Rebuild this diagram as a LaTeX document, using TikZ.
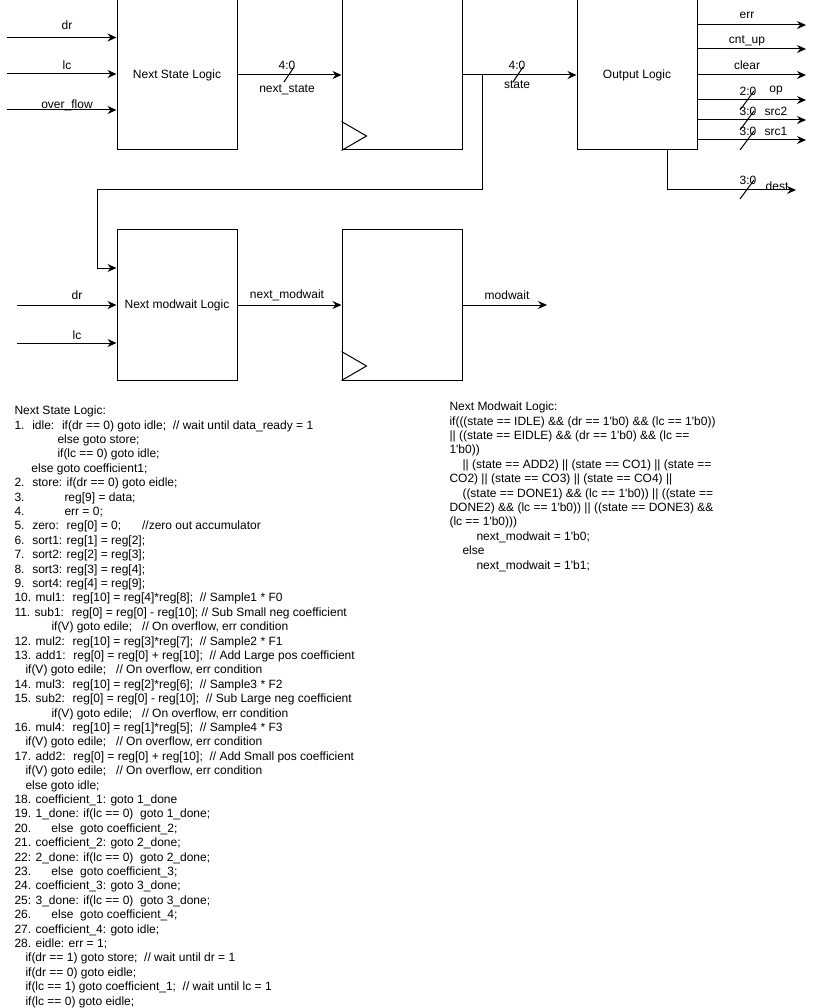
\documentclass[tikz,border=0pt]{standalone}
\usepackage{fontspec}
\setmainfont{Liberation Sans}
\usetikzlibrary{arrows.meta,calc}
\newcommand{\apos}{\textquotesingle}
\begin{document}
\begin{tikzpicture}[x=1pt,y=-1pt,line width=1pt,
  font=\fontsize{12}{14.4}\selectfont,
  blk/.style={draw, minimum width=120pt, minimum height=150pt, inner sep=0pt},
  arr/.style={-{Stealth[length=9pt,width=8pt,inset=3pt]}},
  lbl/.style={inner sep=0pt},
  code/.style={anchor=north west, align=left, inner sep=0pt}]
\useasboundingbox (0,0) rectangle (816,1008);

% blocks
\node[blk] (nsl) at (177,75) {Next State Logic};
\node[blk] (reg1) at (402,75) {};
\node[blk] (outl) at (637,75) {Output Logic};
\node[blk] (nml) at (177,305) {Next modwait Logic};
\node[blk] (reg2) at (402,305) {};

% clock triangles
\draw ($(reg1.south west)+(0,-29)$) -- ++(25,14.5) -- (reg1.south west);
\draw ($(reg2.south west)+(0,-29)$) -- ++(25,14.5) -- (reg2.south west);

% inputs to next state logic
\coordinate (idr) at (7,37.5);
\coordinate (ilc) at (7,74);
\coordinate (iof) at (7,110);
\draw[arr] (idr) -- (nsl.west |- idr);
\draw[arr] (ilc) -- (nsl.west |- ilc);
\draw[arr] (iof) -- (nsl.west |- iof);
\node[lbl] (ldr) at (67,25) {dr};
\node[lbl] (llc) at (67,65) {lc};
\node[lbl] (lof) at (67,105) {over\_flow};

% next_state
\draw[arr] (nsl.east) -- (reg1.west);
\draw (284,82) -- (294,67);
\node[lbl] (lns1) at (287,65.5) {4:0};
\node[lbl] (lns2) at (287,90) {next\_state};

% state
\draw[arr] (reg1.east) -- (outl.west);
\draw (513,82) -- (523,67);
\node[lbl] (lst1) at (517,65.5) {4:0};
\node[lbl] (lst2) at (517,85) {state};

% feedback of state to next modwait logic
\coordinate (tap) at (482,75);
\draw[arr] (tap) |- (97,190) |- (nml.west |- 0,268);

% outputs
\coordinate (oerr) at (806,25);
\coordinate (ocnt) at (806,49);
\coordinate (oclr) at (806,75);
\coordinate (oop) at (806,100);
\coordinate (os2) at (806,120);
\coordinate (os1) at (806,140);
\coordinate (odest) at (796,190);
\draw[arr] (outl.east |- oerr) -- (oerr);
\draw[arr] (outl.east |- ocnt) -- (ocnt);
\draw[arr] (outl.east |- oclr) -- (oclr);
\draw[arr] (outl.east |- oop) -- (oop);
\draw[arr] (outl.east |- os2) -- (os2);
\draw[arr] (outl.east |- os1) -- (os1);
\draw[arr] ($(outl.south)+(30,0)$) |- (odest);
\node[lbl] (lerr) at (747,15) {err};
\node[lbl] (lcnt) at (747,41) {cnt\_up};
\node[lbl] (lclr) at (747,65) {clear};
\draw (740,110) -- (754,91);
\draw (740,130) -- (754,111);
\draw (740,150) -- (754,131);
\draw (740,199) -- (754,180);
\node[lbl] (lop1) at (748,91) {2:0};
\node[lbl] (lop2) at (776,91) {op};
\node[lbl] (ls21) at (748,111) {3:0};
\node[lbl] (ls22) at (776,111) {src2};
\node[lbl] (ls11) at (748,131) {3:0};
\node[lbl] (ls12) at (776,131) {src1};
\node[lbl] (ld1) at (748,180) {3:0};
\node[lbl] (ld2) at (777,186) {dest};

% next modwait part
\coordinate (idr2) at (17,305);
\coordinate (ilc2) at (17,343);
\draw[arr] (idr2) -- (nml.west |- idr2);
\draw[arr] (ilc2) -- (nml.west |- ilc2);
\node[lbl] (ldr2) at (77,295) {dr};
\node[lbl] (llc2) at (77,335) {lc};
\draw[arr] (nml.east) -- (reg2.west);
\node[lbl] (lnm) at (287,295) {next\_modwait};
\coordinate (omw) at (547,305);
\draw[arr] (reg2.east) -- (omw);
\node[lbl] (lmw) at (507,295) {modwait};

% code texts
\node[code] (nsltext) at (14,404.2) {\strut Next State Logic:\\
1.~ idle:~ if(dr == 0) goto idle;~ // wait until data\_ready = 1\\
\hspace*{43pt}else goto store;\\
\hspace*{43pt}if(lc == 0) goto idle;\\
\hspace*{17pt}else goto coefficient1;\\
2.~ store: if(dr == 0) goto eidle;\\
\makebox[50pt][l]{3.}reg[9] = data;\\
\makebox[50pt][l]{4.}err = 0;\\
5.~ zero:~ reg[0] = 0;\hspace{21pt}//zero out accumulator\\
6.~ sort1: reg[1] = reg[2];\\
7.~ sort2: reg[2] = reg[3];\\
8.~ sort3: reg[3] = reg[4];\\
9.~ sort4: reg[4] = reg[9];\\
10. mul1:~ reg[10] = reg[4]*reg[8];~ // Sample1 * F0\\
11. sub1:~ reg[0] = reg[0] - reg[10]; // Sub Small neg coefficient\\
\hspace*{37pt}if(V) goto edile;~~ // On overflow, err condition\\
12. mul2:~ reg[10] = reg[3]*reg[7];~ // Sample2 * F1\\
13. add1:~ reg[0] = reg[0] + reg[10];~ // Add Large pos coefficient\\
\hspace*{11pt}if(V) goto edile;~~ // On overflow, err condition\\
14. mul3:~ reg[10] = reg[2]*reg[6];~ // Sample3 * F2\\
15. sub2:~ reg[0] = reg[0] - reg[10];~ // Sub Large neg coefficient\\
\hspace*{37pt}if(V) goto edile;~~ // On overflow, err condition\\
16. mul4:~ reg[10] = reg[1]*reg[5];~ // Sample4 * F3\\
\hspace*{11pt}if(V) goto edile;~~ // On overflow, err condition\\
17. add2:~ reg[0] = reg[0] + reg[10];~ // Add Small pos coefficient\\
\hspace*{11pt}if(V) goto edile;~~ // On overflow, err condition\\
\hspace*{11pt}else goto idle;\\
18. coefficient\_1: goto 1\_done\\
19. 1\_done: if(lc == 0)~ goto 1\_done;\\
\makebox[37pt][l]{20.}else~ goto coefficient\_2;\\
21. coefficient\_2: goto 2\_done;\\
22: 2\_done: if(lc == 0)~ goto 2\_done;\\
\makebox[37pt][l]{23.}else~ goto coefficient\_3;\\
24. coefficient\_3: goto 3\_done;\\
25: 3\_done: if(lc == 0)~ goto 3\_done;\\
\makebox[37pt][l]{26.}else~ goto coefficient\_4;\\
27. coefficient\_4: goto idle;\\
28. eidle: err = 1;\\
\hspace*{11pt}if(dr == 1) goto store;~ // wait until dr = 1\\
\hspace*{11pt}if(dr == 0) goto eidle;\\
\hspace*{11pt}if(lc == 1) goto coefficient\_1;~ // wait until lc = 1\\
\hspace*{11pt}if(lc == 0) goto eidle;};

\node[code] (nmltext) at (449,400.2) {\strut Next Modwait Logic:\\
if(((state == IDLE) \&\& (dr == 1\apos b0) \&\& (lc == 1\apos b0))\\
|| ((state == EIDLE) \&\& (dr == 1\apos b0) \&\& (lc ==\\
1\apos b0))\\
\hspace*{13pt}|| (state == ADD2) || (state == CO1) || (state ==\\
CO2) || (state == CO3) || (state == CO4) ||\\
\hspace*{13pt}((state == DONE1) \&\& (lc == 1\apos b0)) || ((state ==\\
DONE2) \&\& (lc == 1\apos b0)) || ((state == DONE3) \&\&\\
(lc == 1\apos b0)))\\
\hspace*{27pt}next\_modwait = 1\apos b0;\\
\hspace*{13pt}else\\
\hspace*{27pt}next\_modwait = 1\apos b1;};
\end{tikzpicture}
\end{document}
